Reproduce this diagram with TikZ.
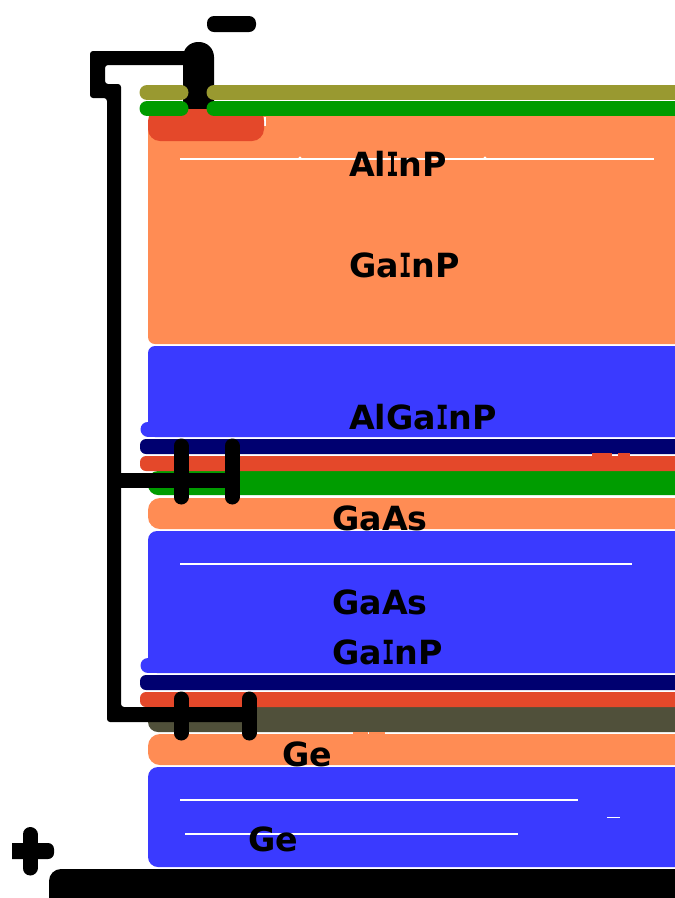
\documentclass[tikz,border=0pt]{standalone}
\usepackage{fontspec}
\usepackage{graphicx}
\setmainfont{DejaVu Sans}
\newfontfamily\serifface{DejaVu Sans Mono}
\newcommand{\serifI}{\scalebox{0.62}[1]{\serifface\bfseries I}}
\definecolor{cOrange}{HTML}{FF8C54}
\definecolor{cBlue}{HTML}{3A3AFF}
\definecolor{cNavy}{HTML}{000070}
\definecolor{cRed}{HTML}{E4482A}
\definecolor{cGreen}{HTML}{009C00}
\definecolor{cOlive}{HTML}{999930}
\definecolor{cDark}{HTML}{50503A}
\tikzset{
  wire/.style={line width=15pt,line cap=round,line join=round,black},
  strip/.style={line width=15pt,line cap=round},
  hair/.style={white,line width=1.2pt},
  layertext/.style={font=\bfseries\fontsize{33.3}{33.3}\selectfont,text=black,anchor=base west,inner sep=0pt},
}
\newcommand{\layer}[5]{\fill[#1,rounded corners=#5pt] (#2,#3) rectangle (700,#4);}
\begin{document}
\begin{tikzpicture}[x=1pt,y=-1pt]
\clip (0,0) rectangle (675,898);
\fill[white] (0,0) rectangle (675,898);
% layers
\layer{cOrange}{148}{116}{344}{7}
\layer{cBlue}{148}{346}{437}{7}
\draw[strip,cBlue] (148,429) -- (200,429);
\layer{cGreen}{148}{471}{495}{10}
\layer{cOrange}{148}{498}{529}{12}
\layer{cBlue}{148}{531}{673}{9}
\draw[strip,cBlue] (148,665.5) -- (200,665.5);
\layer{cDark}{148}{707}{732}{10}
\layer{cOrange}{148}{734}{765}{12}
\layer{cBlue}{148}{767}{867}{10}
\layer{cNavy}{140}{439}{454}{6}
\layer{cRed}{140}{456}{471}{6}
\layer{cNavy}{140}{675}{690}{6}
\layer{cRed}{140}{692}{707}{6}
\fill[cRed] (592,453) rectangle (612,457);
\fill[cRed] (618,453) rectangle (630,457);
\fill[cOrange] (353,731.5) rectangle (368,735);
\fill[cOrange] (369,731.5) rectangle (385,735);
% hairlines
\draw[hair] (180,159) -- (654,159);
\draw[hair] (180,564) -- (632,564);
\draw[hair] (180,800) -- (578,800);
\draw[hair] (185,834) -- (518,834);
\draw[hair] (607,817.5) -- (620,817.5);
\fill[white] (300,158) circle[radius=1.6pt];
\fill[white] (485,158) circle[radius=1.6pt];
\draw[white,line width=2pt] (265,117) -- (265,126);
% top contact
\fill[black,rounded corners=15pt] (183,42) rectangle (214,125);
\fill[cRed,rounded corners=12pt] (148,109) rectangle (264,141);
\draw[strip,cOlive] (147,92.5) -- (181,92.5);
\draw[strip,cOlive] (214,92.5) -- (700,92.5);
\draw[strip,cGreen] (147,108.5) -- (181,108.5);
\draw[strip,cGreen] (214,108.5) -- (700,108.5);
% wiring
\fill[black,rounded corners=3pt] (198,51) -- (90,51) -- (90,98) -- (107,98) -- (107,722) -- (249,722)
  -- (249,707) -- (121,707) -- (121,84) -- (105,84) -- (105,65) -- (198,65) -- cycle;
\fill[black] (114,472.5) rectangle (232,487.5);
\draw[wire] (181,446) -- (181,497);
\draw[wire] (232,446) -- (232,497);
\draw[wire] (181,699) -- (181,733);
\draw[wire] (249,699) -- (249,733);
% terminals
\fill[black,rounded corners=7pt] (207,16) rectangle (256,32);
\draw[wire] (30,834.5) -- (30,868);
\fill[black,rounded corners=6pt] (0,843) rectangle (54,859);
\fill[white] (0,840) rectangle (12,862);
\fill[black,rounded corners=12pt] (49,869) rectangle (720,930);
% labels
\node[layertext] (t1) at (349,176) {Al\serifI nP};
\node[layertext] (t2) at (349,277) {Ga\serifI nP};
\node[layertext] (t3) at (349,429) {AlGa\serifI nP};
\node[layertext] (t4) at (332,530) {GaAs};
\node[layertext] (t5) at (332,614) {GaAs};
\node[layertext] (t6) at (332,664) {Ga\serifI nP};
\node[layertext] (t7) at (282,766) {Ge};
\node[layertext] (t8) at (248,851) {Ge};
\end{tikzpicture}
\end{document}
